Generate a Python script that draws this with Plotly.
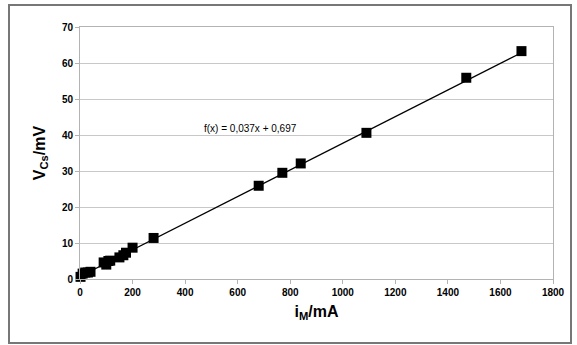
import plotly.graph_objects as go

i_mA = [2, 10, 20, 30, 40, 90, 100, 108, 115, 150, 165, 175, 200, 280, 680, 770, 840, 1090, 1470, 1680]
v_mV = [0.6, 1.5, 1.8, 1.8, 2.0, 4.6, 4.0, 5.0, 5.1, 6.0, 6.6, 7.3, 8.7, 11.4, 25.9, 29.5, 32.1, 40.6, 55.9, 63.3]
slope = 0.037
intercept = 0.697
fit_x = [0, 1680]
fit_y = [slope * x + intercept for x in fit_x]
equation = "f(x) = 0,037x + 0,697"

font = "Liberation Sans"
fig = go.Figure()
fig.add_trace(go.Scatter(x=fit_x, y=fit_y, mode="lines",
                         line=dict(color="#000000", width=1.2), showlegend=False,
                         hoverinfo="skip"))
fig.add_trace(go.Scatter(x=i_mA, y=v_mV, mode="markers",
                         marker=dict(symbol="square", size=10, color="#000000"),
                         showlegend=False, cliponaxis=False))

fig.add_annotation(x=650, y=41.8, text=equation, showarrow=False,
                   font=dict(family=font, size=10, color="#000000"))

fig.add_shape(type="rect", xref="paper", yref="paper",
              x0=-71 / 473, x1=1 + 18 / 473, y0=-64 / 252, y1=1 + 22 / 252,
              line=dict(color="#777777", width=2), fillcolor="rgba(0,0,0,0)", layer="below")

fig.update_layout(
    width=577, height=345,
    margin=dict(l=80, r=24, t=27, b=66),
    paper_bgcolor="white", plot_bgcolor="white",
    font=dict(family=font, size=10, color="#000000"),
    xaxis=dict(range=[0, 1800], dtick=200, tick0=0, showgrid=False, zeroline=False,
               showline=True, mirror=True, linecolor="#b3b3b3", linewidth=1,
               ticks="outside", ticklen=4, tickcolor="#b3b3b3",
               tickfont=dict(family=font, size=10, color="#000000", weight="bold"),
               title=dict(text="<b>i<sub>M</sub>/mA</b>", font=dict(family=font, size=16), standoff=8)),
    yaxis=dict(range=[0, 70], dtick=10, tick0=0, showgrid=True, gridcolor="#c8c8c8", zeroline=False,
               showline=True, mirror=True, linecolor="#b3b3b3", linewidth=1,
               ticks="outside", ticklen=4, tickcolor="#b3b3b3",
               tickfont=dict(family=font, size=10, color="#000000", weight="bold"),
               title=dict(text="<b>V<sub>Cs</sub>/mV</b>", font=dict(family=font, size=16), standoff=12)),
)

fig.write_html("out.html", config={"displayModeBar": False},
               post_script="document.body.style.margin='0';document.body.style.overflow='hidden';")
